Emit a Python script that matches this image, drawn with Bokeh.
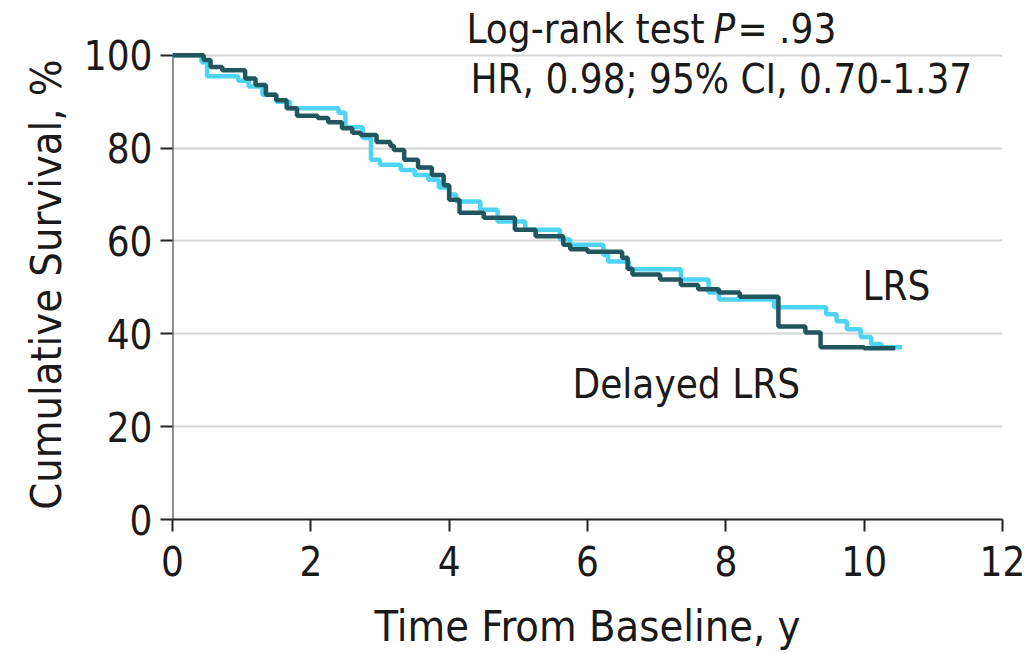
from bokeh.plotting import figure
from bokeh.models import Label, Range1d, FixedTicker
from bokeh.embed import file_html
from bokeh.resources import INLINE

# Delayed LRS (dark teal)
delayed_t = [0, 0.45, 0.55, 0.72, 1.05, 1.2, 1.35, 1.5, 1.65, 1.8, 2.1, 2.25, 2.45, 2.6, 2.72, 2.95, 3.15, 3.2, 3.35, 3.55, 3.75, 3.92, 4.0, 4.15, 4.5, 4.95, 5.25, 5.65, 5.75, 6.0, 6.5, 6.58, 6.65, 7.05, 7.35, 7.6, 7.9, 8.2, 8.76, 9.15, 9.37, 10.0, 10.45]
delayed_s = [100, 99, 97.5, 96.8, 95, 93.6, 91.5, 90.3, 88.6, 87, 86.5, 85.6, 84.3, 83.3, 82.8, 81.3, 80.5, 79.6, 77.5, 75.8, 74.2, 72, 68.9, 66.1, 65, 62.4, 61, 59.2, 58.2, 57.7, 56.4, 54, 52.8, 51.7, 50.5, 49.6, 48.9, 48, 41.6, 40.3, 37.1, 36.9, 36.9]

# LRS (light cyan)
lrs_t = [0, 0.42, 0.5, 0.95, 1.1, 1.3, 1.5, 1.7, 2.4, 2.5, 2.75, 2.87, 3.0, 3.3, 3.5, 3.7, 3.85, 4.0, 4.1, 4.45, 4.7, 5.1, 5.6, 5.75, 6.23, 6.3, 6.6, 7.35, 7.75, 7.9, 8.7, 9.45, 9.6, 9.75, 9.95, 10.1, 10.25, 10.55]
lrs_s = [100, 98.5, 95.5, 94.5, 93.3, 91.5, 90, 88.6, 87.6, 84.5, 82.2, 77.5, 76.4, 75.3, 74.2, 73.2, 71.5, 70, 68.5, 66.7, 64.2, 62.4, 60.3, 59.2, 57, 55.6, 53.9, 51.7, 48.9, 47.4, 45.7, 44.2, 42.7, 41, 39.3, 37.8, 37.1, 37.1]

x_ticks = [0, 2, 4, 6, 8, 10, 12]
y_ticks = [0, 20, 40, 60, 80, 100]

FONT = "DejaVu Sans Condensed"
FS = "40px"
FS_AX = "43px"
INK = "#1a1a1a"

# frame spans page y 0..521; 100 % sits at page y 55 -> top of range 111.8
p = figure(width=1032, height=653, output_backend="svg", toolbar_location=None,
           x_range=Range1d(0, 12), y_range=Range1d(0, 111.8),
           min_border_left=172, min_border_right=30, min_border_top=0, min_border_bottom=132)
p.outline_line_color = None
p.background_fill_color = "white"
p.border_fill_color = "white"

p.xgrid.grid_line_color = None
p.ygrid.grid_line_color = "#d4d4d4"
p.ygrid.grid_line_width = 2
p.ygrid.ticker = FixedTicker(ticks=y_ticks)

# y-axis spine only up to 100 %
p.segment(x0=[0], y0=[0], x1=[0], y1=[y_ticks[-1]], line_color="#222222", line_width=2)

p.step(lrs_t, lrs_s, mode="after", line_color="#4fd3f3", line_width=4.5)
p.step(delayed_t, delayed_s, mode="after", line_color="#22565f", line_width=4.5)

for ax in (p.xaxis[0], p.yaxis[0]):
    ax.axis_line_color = "#222222"
    ax.axis_line_width = 2
    ax.major_tick_line_color = "#222222"
    ax.major_tick_line_width = 2
    ax.major_tick_out = 12
    ax.major_tick_in = 0
    ax.minor_tick_line_color = None
    ax.major_label_text_font = FONT
    ax.major_label_text_font_size = FS
    ax.major_label_text_color = INK
    ax.axis_label_text_font = FONT
    ax.axis_label_text_font_size = FS_AX
    ax.axis_label_text_font_style = "normal"
    ax.axis_label_text_color = INK
p.yaxis[0].axis_line_color = None

p.xaxis.ticker = FixedTicker(ticks=x_ticks)
p.yaxis.ticker = FixedTicker(ticks=y_ticks)
p.xaxis.axis_label = "Time From Baseline, y"
# trailing no-break spaces centre the visible label on the 0-100 span
p.yaxis.axis_label = "Cumulative Survival, %" + "\u00a0" * 4
p.xaxis.major_label_standoff = 14
p.yaxis.major_label_standoff = 8
p.xaxis.axis_label_standoff = 22
p.yaxis.axis_label_standoff = 10

FL, FB = 172, 521  # frame left / bottom in page pixels

def lab(px, py, text, style="normal"):
    # screen units are measured from the frame's bottom-left corner
    p.add_layout(Label(x=px - FL, y=FB - py, x_units="screen", y_units="screen", text=text,
                       text_font=FONT, text_font_size=FS, text_font_style=style,
                       text_align="left", text_baseline="middle", text_color=INK))

lab(466, 30, "Log-rank test")
lab(713, 30, "P", style="italic")
lab(737, 30, "= .93")
lab(470, 80, "HR, 0.98; 95% CI, 0.70-1.37")
lab(862, 287, "LRS")
lab(572, 385, "Delayed LRS")

open("out.html", "w").write(file_html(p, INLINE))
